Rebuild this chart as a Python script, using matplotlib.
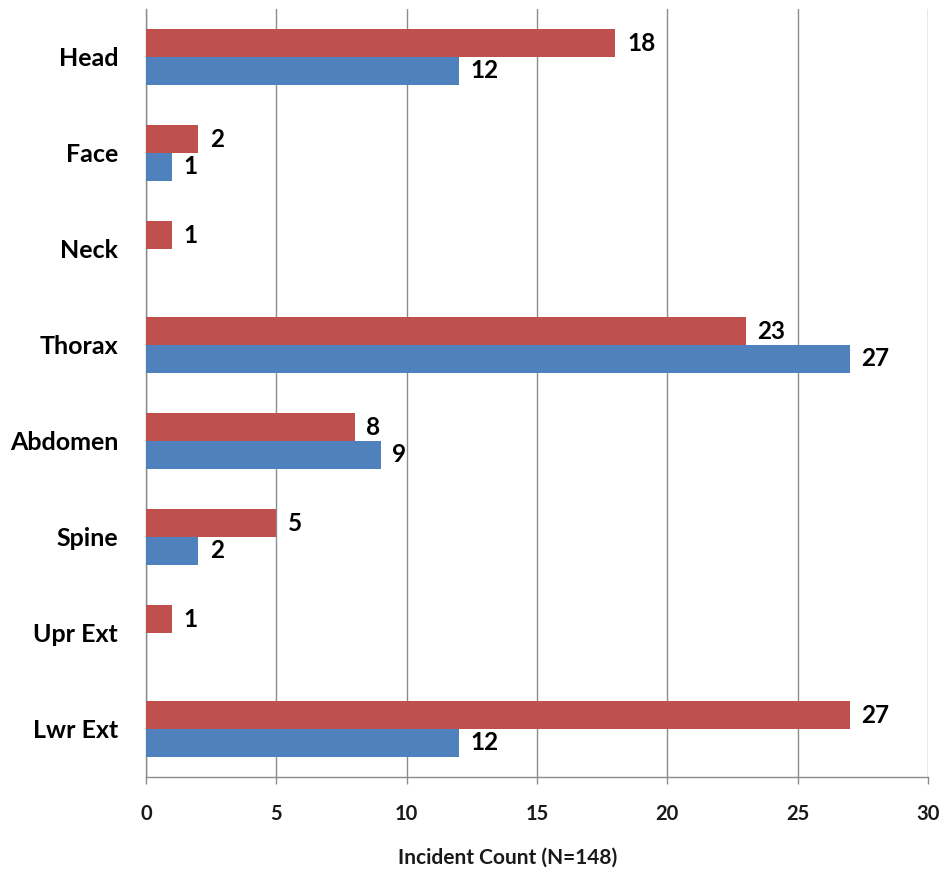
import numpy as np
import matplotlib
matplotlib.use('Agg')
import matplotlib.pyplot as plt

plt.rcParams['font.family'] = ['Lato', 'DejaVu Sans']

# 身体部位及两组事件数
regions = ['Head', 'Face', 'Neck', 'Thorax', 'Abdomen', 'Spine', 'Upr Ext', 'Lwr Ext']
red_counts = [18, 2, 1, 23, 8, 5, 1, 27]
blue_counts = [12, 1, 0, 27, 9, 2, 0, 12]
x_ticks = [0, 5, 10, 15, 20, 25, 30]

red = '#C0504D'
blue = '#4F81BD'
grid_gray = '#8C8C8C'

fig = plt.figure(figsize=(9.39, 8.76), dpi=100)
ax = fig.add_axes([146 / 939, 1 - 777 / 876, 782 / 939, 768 / 876])

y = np.arange(len(regions))
h = 0.287
ax.barh(y - h / 2, red_counts, height=h, color=red, zorder=3)
ax.barh(y + h / 2, blue_counts, height=h, color=blue, zorder=3)

# 数值标签，0 不标
for yi, v in zip(y, red_counts):
    if v > 0:
        ax.annotate(str(v), (v, yi - h / 2), xytext=(8.5, 0), textcoords='offset points',
                    va='center', ha='left', fontsize=17.5, fontweight='bold')
for yi, v in zip(y, blue_counts):
    if v > 0:
        ax.annotate(str(v), (v, yi + h / 2), xytext=(8.5, 0), textcoords='offset points',
                    va='center', ha='left', fontsize=17.5, fontweight='bold')

ax.set_xlim(0, 30)
ax.set_ylim(len(regions) - 0.5, -0.5)
ax.set_xticks(x_ticks)
ax.set_xticklabels([str(t) for t in x_ticks], fontsize=14.5, fontweight='bold', color='#1a1a1a')
ax.set_yticks(y)
ax.set_yticklabels(regions, fontsize=18, fontweight='bold')

ax.grid(axis='x', color=grid_gray, linewidth=1, zorder=0)
for s in ['top', 'right']:
    ax.spines[s].set_visible(False)
for s in ['left', 'bottom']:
    ax.spines[s].set_color(grid_gray)
    ax.spines[s].set_linewidth(1)

ax.tick_params(axis='x', direction='out', length=5, width=1, color=grid_gray, pad=14.5)
ax.tick_params(axis='y', length=0, pad=20)

fig.text(508 / 939, 1 - 858 / 876, 'Incident Count (N=148)', ha='center', va='center',
         fontsize=15, fontweight='bold', color='#1a1a1a')

fig.savefig('out.png', dpi=100)
